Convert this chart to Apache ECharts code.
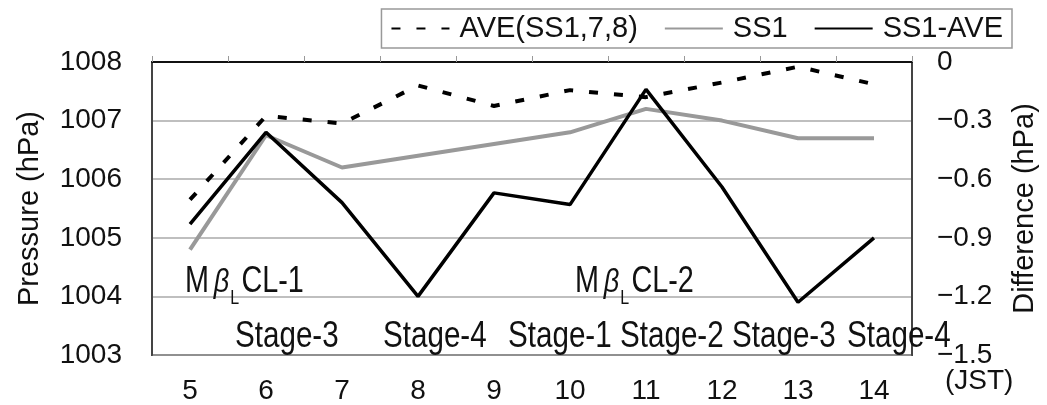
<!DOCTYPE html>
<html>
<head>
<meta charset="utf-8">
<script src="https://cdn.jsdelivr.net/npm/echarts@6/dist/echarts.min.js"></script>
<style>
  html, body { margin: 0; padding: 0; background: #fff; }
  #main { width: 1047px; height: 405px; }
</style>
</head>
<body>
<div id="main"></div>
<script>
// hours (JST)
const hours = ['5', '6', '7', '8', '9', '10', '11', '12', '13', '14'];
// pressure, hPa (left axis)
const aveValues = [1005.65, 1007.08, 1006.95, 1007.6, 1007.25, 1007.52, 1007.4, 1007.65, 1007.92, 1007.62];
const ss1Values = [1004.8, 1006.75, 1006.2, 1006.4, 1006.6, 1006.8, 1007.2, 1007.0, 1006.7, 1006.7];
// difference, hPa (right axis)
const diffValues = [-0.83, -0.36, -0.72, -1.2, -0.67, -0.73, -0.14, -0.64, -1.23, -0.9];
const seriesNames = ['AVE(SS1,7,8)', 'SS1', 'SS1-AVE'];
const stageLabels = ['Stage-3', 'Stage-4', 'Stage-1', 'Stage-2', 'Stage-3', 'Stage-4'];
const stageX = [235, 383, 508, 620, 732, 847];

const FONT = "'Liberation Sans', Arial, sans-serif";
const SQUEEZE = 0.8; // 注記は縦長の字体なので横方向を詰める

const chart = echarts.init(document.getElementById('main'));

// MβLCL 注記
function cloudLabel(text, x) {
  return {
    type: 'text',
    x: x,
    y: 308,
    scaleX: SQUEEZE,
    z: 100,
    style: {
      text: '{m|M}{b|β}{s|L}{m|' + text + '}',
      verticalAlign: 'bottom',
      rich: {
        m: { fontSize: 36, fontFamily: FONT, fill: '#111', verticalAlign: 'bottom', padding: [0, 0, 8, 0] },
        b: { fontSize: 34, fontFamily: FONT, fontStyle: 'italic', fill: '#111', verticalAlign: 'bottom', padding: [0, 1, 8, 6] },
        s: { fontSize: 20, fontFamily: FONT, fill: '#111', verticalAlign: 'bottom', padding: [0, 3, 0, 0] }
      }
    }
  };
}

const graphics = [cloudLabel('CL-1', 185), cloudLabel('CL-2', 575)];
stageLabels.forEach((s, i) => {
  graphics.push({
    type: 'text',
    x: stageX[i],
    y: 318,
    scaleX: SQUEEZE,
    z: 100,
    style: { text: s, fontSize: 37, fontFamily: FONT, fill: '#111' }
  });
});
graphics.push({
  type: 'text',
  x: 945,
  y: 367,
  style: { text: '(JST)', fontSize: 28, fontFamily: FONT, fill: '#111' }
});

const option = {
  animation: false,
  backgroundColor: '#fff',
  textStyle: { fontFamily: FONT },
  grid: {
    left: 152, right: 125, top: 62, bottom: 50,
    show: true, borderColor: '#444', borderWidth: 2
  },
  legend: {
    right: 35,
    top: 9,
    padding: [5, 9, 5, 9],
    borderColor: '#999',
    borderWidth: 1.5,
    itemWidth: 58,
    itemHeight: 14,
    itemGap: 26,
    itemStyle: { opacity: 0 },
    textStyle: { fontSize: 29, color: '#111', fontFamily: FONT, padding: [0, 0, 0, 5] },
    data: seriesNames
  },
  xAxis: {
    type: 'category',
    data: hours,
    boundaryGap: true,
    axisLine: { lineStyle: { color: '#111', width: 2 } },
    axisTick: { show: true, inside: true, length: 6, lineStyle: { color: '#999', width: 1 } },
    axisLabel: { fontSize: 28, color: '#111', margin: 22 }
  },
  yAxis: [
    {
      type: 'value',
      min: 1003, max: 1008, interval: 1,
      name: 'Pressure (hPa)',
      nameLocation: 'middle',
      nameRotate: 90,
      nameGap: 108,
      nameTextStyle: { fontSize: 29, color: '#111' },
      axisLine: { show: true, lineStyle: { color: '#444', width: 2 } },
      axisTick: { show: false },
      axisLabel: { fontSize: 28, color: '#111', margin: 30, formatter: (v) => String(v) },
      splitLine: { lineStyle: { color: '#aaa', width: 1.5 } }
    },
    {
      type: 'value',
      min: -1.5, max: 0, interval: 0.3,
      name: 'Difference (hPa)',
      nameLocation: 'middle',
      nameRotate: 90,
      nameGap: 98,
      nameTextStyle: { fontSize: 29, color: '#111' },
      axisLine: { show: true, lineStyle: { color: '#444', width: 2 } },
      axisTick: { show: false },
      axisLabel: {
        fontSize: 28, color: '#111', margin: 25,
        formatter: (v) => Math.abs(v) < 1e-9 ? '0' : '\u2212' + Math.abs(v).toFixed(1)
      },
      splitLine: { show: false }
    }
  ],
  series: [
    {
      name: seriesNames[0],
      type: 'line',
      yAxisIndex: 0,
      data: aveValues,
      symbol: 'none',
      itemStyle: { color: '#000' },
      lineStyle: { color: '#000', width: 4, type: [9, 16] },
      z: 3
    },
    {
      name: seriesNames[1],
      type: 'line',
      yAxisIndex: 0,
      data: ss1Values,
      symbol: 'none',
      itemStyle: { color: '#999' },
      lineStyle: { color: '#999', width: 4 },
      z: 2
    },
    {
      name: seriesNames[2],
      type: 'line',
      yAxisIndex: 1,
      data: diffValues,
      symbol: 'none',
      itemStyle: { color: '#000' },
      lineStyle: { color: '#000', width: 3.5 },
      z: 4
    }
  ],
  graphic: graphics
};

chart.setOption(option);
</script>
</body>
</html>
